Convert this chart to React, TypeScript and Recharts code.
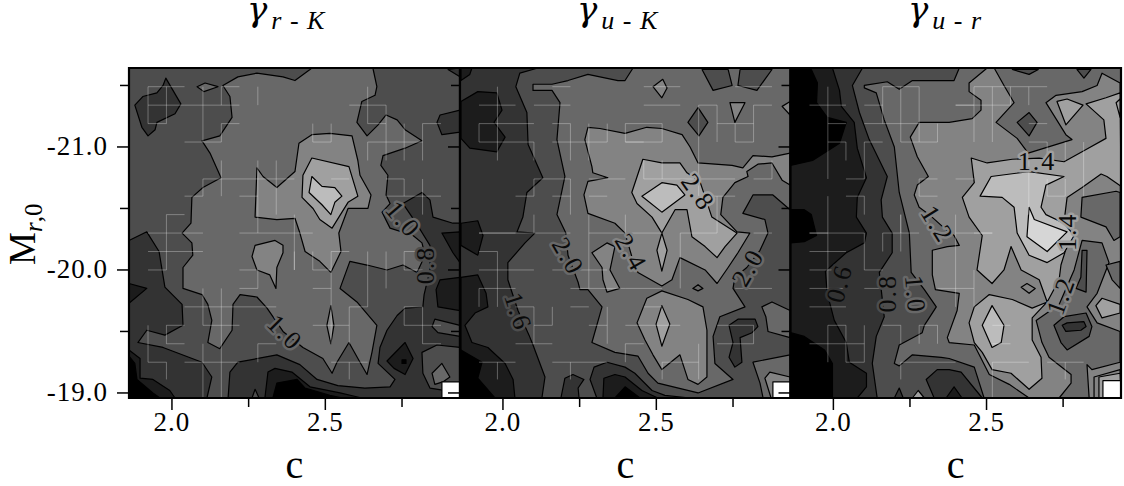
import React from "react";
import { ScatterChart, Scatter, XAxis, YAxis } from "recharts";

const cMin = 1.86, cMax = 2.939, mTop = -21.642, mBottom = -18.959;
const cTicks = [2, 2.25, 2.5, 2.75];
const mTicks = [-21.5, -21, -20.5, -20, -19.5, -19];
const grays = ["#000000", "#1c1c1c", "#333333", "#4d4d4d", "#686868", "#838383", "#a0a0a0", "#bcbcbc", "#d6d6d6", "#ffffff"];
const panelTitles = ["r - K", "u - K", "u - r"];
const gridC = [1.922,1.982,2.041,2.101,2.161,2.22,2.28,2.34,2.399,2.459,2.519,2.578,2.638,2.698,2.757,2.817,2.877];
const gridM = [-21.49,-21.34,-21.19,-21.04,-20.89,-20.74,-20.6,-20.45,-20.3,-20.15,-20,-19.85,-19.7,-19.55,-19.4,-19.25,-19.11,-18.96];

type Contour = [number, number[]];
type ValueLabel = [number, number, string, number, number];

const frameCorners = [cMin,mTop, cMax,mTop, cMax,mBottom, cMin,mBottom];

const rkContours: Contour[] = [
  [3, [1.86,-21.642, 2.939,-21.642, 2.939,-18.959, 1.86,-18.959]],
  [4, [2.166,-21.5, 2.215,-21.57, 2.277,-21.6, 2.362,-21.57, 2.401,-21.54, 2.45,-21.63, 2.456,-21.642, 2.655,-21.642, 2.668,-21.49, 2.662,-21.42, 2.619,-21.37, 2.603,-21.2, 2.636,-21.09, 2.672,-21.18, 2.698,-21.26, 2.734,-21.22, 2.76,-21.14, 2.815,-21.05, 2.76,-20.99, 2.688,-20.93, 2.681,-20.85, 2.704,-20.77, 2.698,-20.61, 2.711,-20.54, 2.685,-20.47, 2.711,-20.34, 2.786,-20.28, 2.815,-20.22, 2.825,-20.12, 2.799,-19.98, 2.753,-20.04, 2.701,-20, 2.636,-20.04, 2.58,-20.07, 2.548,-19.85, 2.603,-19.74, 2.668,-19.55, 2.652,-19.33, 2.636,-19.15, 2.613,-19.25, 2.577,-19.41, 2.538,-19.25, 2.522,-19.16, 2.492,-19.28, 2.427,-19.37, 2.362,-19.5, 2.31,-19.69, 2.277,-19.78, 2.222,-19.8, 2.199,-19.72, 2.196,-19.51, 2.156,-19.36, 2.117,-19.41, 2.13,-19.59, 2.117,-19.72, 2.098,-19.8, 2.036,-19.85, 2.036,-20.02, 2.068,-20.12, 2.065,-20.22, 2.033,-20.3, 2.062,-20.38, 2.065,-20.59, 2.101,-20.67, 2.16,-20.75, 2.124,-20.95, 2.098,-21.05, 2.156,-21.09, 2.196,-21.24, 2.189,-21.41]],
  [2, [1.98,-21.56, 2.029,-21.35, 2.01,-21.27, 1.951,-21.2, 1.945,-21.14, 1.922,-21.09, 1.902,-21.16, 1.879,-21.34, 1.905,-21.41, 1.951,-21.44, 1.971,-21.5]],
  [2, [1.86,-20.24, 1.918,-20.31, 1.958,-20.15, 1.977,-19.86, 2.033,-19.72, 2.036,-19.55, 1.977,-19.47, 1.918,-19.51, 1.889,-19.41, 1.971,-19.37, 2.098,-19.25, 2.13,-19.13, 2.114,-18.959, 1.86,-18.959]],
  [2, [2.183,-18.959, 2.189,-19.17, 2.215,-19.25, 2.342,-19.31, 2.417,-19.23, 2.473,-19.11, 2.541,-19.06, 2.629,-19.04, 2.711,-19.05, 2.727,-19.11, 2.672,-19.24, 2.678,-19.37, 2.701,-19.51, 2.734,-19.63, 2.76,-19.69, 2.818,-19.7, 2.822,-19.8, 2.841,-20, 2.841,-20.2, 2.799,-20.37, 2.753,-20.54, 2.815,-20.63, 2.841,-20.57, 2.851,-20.43, 2.916,-20.38, 2.939,-20.38, 2.939,-18.959]],
  [1, [2.88,-20.3, 2.939,-20.31, 2.939,-20.06, 2.916,-20.14]],
  [1, [2.939,-19.94, 2.874,-19.92, 2.861,-19.84, 2.867,-19.7, 2.939,-19.67]],
  [3, [2.857,-19.6, 2.848,-19.54, 2.867,-19.49, 2.939,-19.46, 2.939,-19.55]],
  [3, [2.815,-19.33, 2.864,-19.39, 2.939,-19.37, 2.939,-19, 2.841,-19.04, 2.818,-19.16]],
  [4, [2.848,-19.16, 2.88,-19.24, 2.906,-19.13, 2.883,-19.09, 2.857,-19.07]],
  [1, [2.701,-19.26, 2.76,-19.41, 2.786,-19.28, 2.76,-19.15, 2.724,-19.2]],
  [0, [2.75,-19.27, 2.763,-19.27, 2.763,-19.24, 2.75,-19.24]],
  [1, [2.303,-18.959, 2.313,-19.17, 2.336,-19.2, 2.391,-19.17, 2.45,-19.05, 2.548,-19, 2.619,-18.959]],
  [0, [2.329,-18.959, 2.342,-19.08, 2.408,-19.11, 2.434,-19.04, 2.515,-18.98, 2.557,-18.959]],
  [3, [2.271,-19.03, 2.284,-18.959, 2.261,-18.959]],
  [1, [1.86,-19.35, 1.896,-19.28, 1.896,-19.12, 1.938,-19.11, 1.993,-19.02, 2.01,-18.959, 1.86,-18.959]],
  [0, [1.86,-19.3, 1.879,-19.24, 1.886,-19.11, 1.938,-19, 1.961,-18.959, 1.86,-18.959]],
  [1, [1.86,-19.89, 1.918,-19.85, 1.86,-19.73]],
  [4, [2.082,-21.49, 2.108,-21.52, 2.15,-21.49, 2.104,-21.45]],
  [2, [2.9,-21.63, 2.939,-21.57, 2.939,-21.642]],
  [2, [2.864,-21.2, 2.874,-21.26, 2.939,-21.3, 2.939,-21.12, 2.88,-21.1]],
  [5, [2.277,-20.83, 2.297,-20.76, 2.342,-20.67, 2.401,-20.8, 2.414,-21.03, 2.456,-21.1, 2.515,-21.11, 2.587,-21.09, 2.606,-20.89, 2.613,-20.77, 2.649,-20.61, 2.639,-20.5, 2.574,-20.5, 2.544,-20.3, 2.551,-20.15, 2.518,-19.98, 2.482,-20.07, 2.434,-20.15, 2.417,-20.3, 2.401,-20.42, 2.342,-20.41, 2.271,-20.43]],
  [5, [2.271,-20.2, 2.336,-20.24, 2.362,-20.2, 2.362,-20.14, 2.342,-20.02, 2.339,-19.85, 2.319,-19.96, 2.277,-20, 2.261,-20.11]],
  [5, [2.518,-19.71, 2.528,-19.55, 2.518,-19.4, 2.505,-19.55]],
  [6, [2.456,-20.91, 2.577,-20.84, 2.606,-20.6, 2.574,-20.55, 2.522,-20.34, 2.482,-20.41, 2.46,-20.5, 2.424,-20.59, 2.427,-20.77]],
  [7, [2.456,-20.76, 2.489,-20.68, 2.531,-20.67, 2.554,-20.6, 2.531,-20.55, 2.518,-20.45, 2.489,-20.53, 2.447,-20.63]],
  [9, [2.88,-19.09, 2.939,-19.09, 2.939,-18.959, 2.88,-18.959]],
];

const ukContours: Contour[] = [
  [2, [1.86,-21.642, 2.939,-21.642, 2.939,-18.959, 1.86,-18.959]],
  [1, [1.863,-21.37, 1.918,-21.45, 1.98,-21.44, 1.997,-21.3, 1.971,-21.2, 2.007,-21.08, 1.98,-20.96, 1.892,-20.99, 1.863,-21.07]],
  [1, [1.863,-21.642, 1.899,-21.642, 1.892,-21.59, 1.863,-21.54]],
  [1, [1.863,-20.38, 1.918,-20.4, 1.935,-20.28, 1.918,-20.12, 1.863,-20.2]],
  [1, [1.863,-19.94, 1.918,-19.96, 1.945,-19.81, 1.951,-19.7, 1.909,-19.65, 1.876,-19.55, 1.899,-19.41, 1.951,-19.37, 2.007,-19.24, 2.033,-19.11, 2.039,-18.959, 1.863,-18.959]],
  [0, [1.863,-19.35, 1.932,-19.25, 1.918,-19.12, 1.974,-18.959, 1.863,-18.959]],
  [3, [2.114,-21.642, 2.055,-21.6, 2.042,-21.49, 2.078,-21.28, 2.082,-21.02, 2.13,-20.75, 2.078,-20.63, 2.065,-20.43, 2.046,-20.31, 2.104,-20.3, 2.072,-20.22, 2.016,-20.06, 2.016,-19.92, 2.049,-19.67, 2.085,-19.47, 2.098,-19.39, 2.137,-19.13, 2.127,-18.959, 2.939,-18.959, 2.939,-21.642]],
  [4, [2.098,-21.46, 2.16,-21.46, 2.186,-21.36, 2.176,-21.06, 2.202,-20.76, 2.176,-20.45, 2.205,-20.3, 2.212,-20.12, 2.245,-19.9, 2.251,-19.84, 2.277,-19.84, 2.323,-19.7, 2.29,-19.41, 2.365,-19.33, 2.44,-19.3, 2.473,-19.16, 2.505,-19.08, 2.636,-19, 2.75,-19.11, 2.691,-19.24, 2.685,-19.46, 2.707,-19.62, 2.789,-19.7, 2.75,-19.85, 2.756,-19.94, 2.795,-20.02, 2.838,-20.16, 2.864,-20.3, 2.854,-20.41, 2.782,-20.46, 2.815,-20.61, 2.88,-20.61, 2.936,-20.49, 2.939,-21.642, 2.424,-21.642, 2.398,-21.54, 2.375,-21.54, 2.277,-21.59, 2.212,-21.54, 2.16,-21.51, 2.098,-21.51]],
  [3, [2.649,-21.63, 2.685,-21.46, 2.747,-21.5, 2.734,-21.63]],
  [3, [2.773,-21.63, 2.766,-21.5, 2.828,-21.46, 2.877,-21.63]],
  [3, [2.603,-21.2, 2.636,-21.32, 2.668,-21.2, 2.639,-21.09]],
  [2, [2.737,-19.55, 2.766,-19.6, 2.822,-19.6, 2.831,-19.54, 2.812,-19.49, 2.773,-19.45, 2.779,-19.25, 2.756,-19.21, 2.737,-19.29, 2.75,-19.41]],
  [4, [2.844,-19.7, 2.877,-19.74, 2.936,-19.67, 2.936,-19.45, 2.864,-19.5, 2.857,-19.62]],
  [4, [2.815,-19.25, 2.936,-19.31, 2.939,-18.959, 2.848,-18.959, 2.838,-19.08]],
  [5, [2.854,-19.12, 2.87,-19.17, 2.936,-19.13, 2.939,-18.959, 2.874,-18.959]],
  [2, [2.189,-18.959, 2.202,-19.12, 2.228,-19.15, 2.264,-19.11, 2.245,-19.04, 2.248,-18.959]],
  [2, [2.284,-19.11, 2.297,-19.21, 2.339,-19.25, 2.398,-19.21, 2.43,-19.16, 2.486,-19.02, 2.528,-18.98, 2.61,-18.959, 2.306,-18.959]],
  [1, [2.326,-18.959, 2.329,-19.12, 2.365,-19.15, 2.398,-19.13, 2.453,-19.02, 2.505,-18.959]],
  [0, [2.365,-18.959, 2.398,-19.05, 2.447,-18.959]],
  [5, [2.277,-21.16, 2.316,-21.15, 2.398,-21.11, 2.469,-21.16, 2.518,-21.15, 2.584,-21.1, 2.61,-21, 2.636,-20.87, 2.747,-20.85, 2.782,-20.83, 2.815,-20.93, 2.877,-20.92, 2.936,-20.95, 2.936,-20.69, 2.91,-20.73, 2.877,-20.87, 2.831,-20.86, 2.795,-20.8, 2.799,-20.76, 2.756,-20.71, 2.717,-20.59, 2.71,-20.45, 2.763,-20.31, 2.805,-20.3, 2.766,-20.14, 2.734,-20.02, 2.698,-19.89, 2.659,-20, 2.577,-20.1, 2.551,-19.92, 2.518,-19.87, 2.44,-19.98, 2.42,-20.11, 2.398,-20.3, 2.365,-20.38, 2.277,-20.46, 2.264,-20.61, 2.277,-20.72, 2.342,-20.75, 2.293,-20.79, 2.29,-20.84, 2.267,-21.06]],
  [5, [2.29,-20.14, 2.339,-20.22, 2.365,-20.19, 2.349,-20, 2.381,-19.85, 2.339,-19.82, 2.326,-19.92, 2.323,-20.02]],
  [5, [2.437,-19.57, 2.469,-19.77, 2.518,-19.83, 2.603,-19.76, 2.652,-19.7, 2.665,-19.51, 2.665,-19.13, 2.636,-19.07, 2.603,-19.11, 2.577,-19.31, 2.518,-19.19, 2.489,-19.31, 2.463,-19.43]],
  [6, [2.499,-19.56, 2.518,-19.71, 2.544,-19.56, 2.518,-19.38]],
  [6, [2.502,-20.16, 2.518,-20.3, 2.535,-20.16, 2.518,-19.99]],
  [4, [2.619,-19.85, 2.636,-19.88, 2.652,-19.85, 2.636,-19.83]],
  [5, [2.489,-21.49, 2.521,-21.55, 2.535,-21.48, 2.518,-21.4]],
  [5, [2.74,-21.36, 2.789,-21.36, 2.756,-21.2]],
  [5, [2.91,-21.33, 2.936,-21.37, 2.936,-21.26]],
  [6, [2.456,-20.9, 2.518,-20.87, 2.577,-20.87, 2.6,-20.79, 2.642,-20.72, 2.681,-20.43, 2.756,-20.31, 2.763,-20.3, 2.724,-20.19, 2.698,-20.1, 2.659,-20.19, 2.616,-20.27, 2.6,-20.49, 2.561,-20.49, 2.518,-20.3, 2.486,-20.43, 2.437,-20.54, 2.42,-20.63]],
  [7, [2.453,-20.6, 2.518,-20.71, 2.567,-20.69, 2.593,-20.61, 2.518,-20.47]],
  [9, [2.88,-19.09, 2.939,-19.09, 2.939,-18.959, 2.88,-18.959]],
];

const urContours: Contour[] = [
  [1, [1.86,-21.642, 2.939,-21.642, 2.939,-18.959, 1.86,-18.959]],
  [0, [1.86,-21.63, 1.928,-21.63, 1.948,-21.52, 1.945,-21.36, 1.98,-21.24, 2.042,-21.2, 2.02,-21.03, 1.932,-20.89, 1.86,-20.85]],
  [0, [1.86,-20.49, 1.905,-20.49, 1.928,-20.45, 1.945,-20.28, 1.905,-20.23, 1.86,-20.22]],
  [0, [1.86,-19.49, 1.905,-19.46, 1.971,-19.35, 1.997,-19.24, 1.997,-18.959, 1.86,-18.959]],
  [2, [1.997,-21.642, 2.02,-21.46, 2.026,-21.33, 2.068,-21.2, 2.078,-20.99, 2.108,-20.75, 2.078,-20.59, 2.075,-20.43, 2.108,-20.3, 2.101,-20.22, 2.042,-20.14, 1.974,-19.99, 1.98,-19.81, 2.003,-19.59, 2.042,-19.41, 2.052,-19.25, 2.108,-19.16, 2.108,-19.05, 2.078,-18.959, 2.939,-18.959, 2.939,-21.642]],
  [3, [2.095,-21.642, 2.062,-21.5, 2.085,-21.28, 2.117,-21.06, 2.176,-20.76, 2.156,-20.57, 2.16,-20.43, 2.192,-20.3, 2.192,-20.14, 2.15,-19.98, 2.166,-19.62, 2.14,-19.46, 2.127,-19.24, 2.143,-18.959, 2.939,-18.959, 2.939,-21.642]],
  [4, [2.101,-21.5, 2.176,-21.53, 2.215,-21.47, 2.258,-21.54, 2.306,-21.54, 2.394,-21.54, 2.411,-21.642, 2.939,-21.642, 2.939,-18.959, 2.492,-18.959, 2.46,-19.21, 2.378,-19.28, 2.352,-19.29, 2.258,-19.31, 2.215,-19.22, 2.199,-19.24, 2.215,-19.39, 2.29,-19.49, 2.297,-19.55, 2.336,-19.7, 2.297,-19.84, 2.254,-19.98, 2.248,-20.3, 2.215,-20.63, 2.199,-21, 2.166,-21.22, 2.14,-21.44, 2.101,-21.48]],
  [2, [2.199,-18.959, 2.215,-19.04, 2.228,-18.959]],
  [6, [2.258,-18.959, 2.277,-19.02, 2.297,-18.959]],
  [2, [2.329,-18.959, 2.303,-19.11, 2.339,-19.19, 2.378,-19.19, 2.417,-19.17, 2.466,-19.02, 2.486,-18.959]],
  [1, [2.368,-18.959, 2.394,-19.05, 2.42,-18.959]],
  [5, [2.28,-21.2, 2.339,-21.2, 2.378,-21.2, 2.453,-21.23, 2.482,-21.3, 2.482,-21.38, 2.443,-21.45, 2.443,-21.52, 2.502,-21.642, 2.525,-21.642, 2.557,-21.5, 2.59,-21.36, 2.531,-21.2, 2.6,-21.07, 2.636,-20.95, 2.779,-21.06, 2.759,-21.1, 2.694,-21.36, 2.727,-21.42, 2.812,-21.45, 2.861,-21.5, 2.877,-21.6, 2.936,-21.52, 2.939,-18.959, 2.639,-18.959, 2.574,-19.07, 2.509,-19.15, 2.46,-19.39, 2.378,-19.41, 2.372,-19.45, 2.404,-19.67, 2.411,-19.81, 2.333,-19.84, 2.323,-19.96, 2.323,-20.16, 2.372,-20.19, 2.411,-20.2, 2.394,-20.28, 2.362,-20.34, 2.313,-20.45, 2.28,-20.51, 2.264,-20.61, 2.274,-20.69, 2.31,-20.76, 2.274,-20.92, 2.251,-21.08]],
  [4, [2.737,-19.72, 2.786,-20, 2.812,-20.24, 2.877,-20.22, 2.9,-20.06, 2.861,-19.81, 2.828,-19.7, 2.861,-19.57, 2.936,-19.5, 2.936,-19.25, 2.844,-19.19, 2.828,-19.23, 2.835,-18.959, 2.737,-18.959, 2.776,-19.08, 2.776,-19.15, 2.704,-19.29, 2.681,-19.41, 2.662,-19.59]],
  [3, [2.72,-19.55, 2.753,-19.62, 2.825,-19.65, 2.844,-19.54, 2.835,-19.46, 2.763,-19.35, 2.743,-19.41]],
  [2, [2.747,-19.55, 2.763,-19.57, 2.818,-19.58, 2.825,-19.54, 2.808,-19.51, 2.759,-19.5]],
  [3, [2.812,-20.16, 2.828,-20.16, 2.825,-19.82, 2.792,-19.85, 2.808,-19.94]],
  [6, [2.857,-19.71, 2.877,-19.77, 2.936,-19.72, 2.936,-19.65, 2.877,-19.61]],
  [5, [2.851,-19.13, 2.936,-19.19, 2.939,-18.959, 2.851,-18.959]],
  [6, [2.867,-19.13, 2.936,-19.16, 2.939,-18.959, 2.867,-18.959]],
  [6, [2.45,-20.91, 2.502,-20.87, 2.584,-20.9, 2.672,-20.91, 2.753,-20.88, 2.825,-20.98, 2.89,-21.07, 2.883,-21.22, 2.825,-21.35, 2.89,-21.4, 2.936,-21.44, 2.939,-20.68, 2.893,-20.76, 2.874,-20.78, 2.812,-20.67, 2.763,-20.59, 2.756,-20.45, 2.763,-20.2, 2.743,-20.04, 2.737,-19.92, 2.698,-19.74, 2.672,-19.92, 2.613,-20, 2.58,-20.19, 2.557,-20, 2.518,-19.89, 2.469,-20, 2.486,-20.28, 2.443,-20.43, 2.421,-20.59, 2.46,-20.71]],
  [4, [2.812,-20.59, 2.923,-20.64, 2.936,-20.63, 2.936,-20.27, 2.916,-20.24, 2.89,-20.35, 2.808,-20.43]],
  [4, [2.89,-20.04, 2.936,-20.07, 2.936,-19.85, 2.91,-19.92]],
  [6, [2.73,-21.37, 2.763,-21.39, 2.815,-21.34, 2.759,-21.18]],
  [6, [2.923,-21.36, 2.936,-21.39, 2.936,-21.24]],
  [3, [2.6,-21.2, 2.639,-21.28, 2.665,-21.2, 2.639,-21.09]],
  [3, [2.584,-21.63, 2.639,-21.59, 2.669,-21.63]],
  [3, [2.795,-21.63, 2.818,-21.56, 2.841,-21.63]],
  [6, [2.443,-19.57, 2.46,-19.7, 2.509,-19.8, 2.584,-19.76, 2.649,-19.69, 2.698,-19.74, 2.649,-19.61, 2.649,-19.43, 2.678,-19.29, 2.681,-19.12, 2.639,-19.03, 2.58,-19.16, 2.518,-19.19, 2.486,-19.33, 2.46,-19.41]],
  [7, [2.486,-19.55, 2.518,-19.71, 2.557,-19.55, 2.548,-19.41, 2.518,-19.37]],
  [5, [2.613,-19.86, 2.632,-19.89, 2.659,-19.85, 2.639,-19.81]],
  [7, [2.515,-20.76, 2.639,-20.8, 2.753,-20.76, 2.694,-20.69, 2.678,-20.51, 2.694,-20.45, 2.753,-20.38, 2.786,-20.28, 2.753,-20.14, 2.698,-20.06, 2.639,-20.12, 2.6,-20.3, 2.59,-20.51, 2.551,-20.59, 2.479,-20.6]],
  [8, [2.639,-20.51, 2.656,-20.41, 2.763,-20.31, 2.698,-20.15, 2.632,-20.27]],
  [9, [2.88,-19.1, 2.939,-19.1, 2.939,-18.959, 2.88,-18.959]],
];

const rkLabels: ValueLabel[] = [[2.753,-20.41,"1.0",50,4],[2.828,-20.04,"0.8",-90,3],[2.368,-19.49,"1.0",45,4]];
const ukLabels: ValueLabel[] = [[2.636,-20.63,"2.8",55,6],[2.417,-20.14,"2.4",60,5],[2.212,-20.11,"2.0",60,4],[2.049,-19.66,"1.6",72,3],[2.799,-20.02,"2.0",-60,4]];
const urLabels: ValueLabel[] = [[2.665,-20.88,"1.4",0,6],[2.763,-20.31,"1.4",-90,6],[2.743,-19.79,"1.2",-70,5],[2.339,-20.37,"1.2",58,5],[2.267,-19.8,"1.0",85,4],[2.176,-19.81,"0.8",-90,3],[2.02,-19.89,"0.6",-75,2]];

// light reseau fragments of the source plate, as index pairs into gridC / gridM: [i1, j1, i2, j2]
const rkWires = [[0,0,2,0],[0,0,0,2],[0,1,2,1],[2,1,5,1],[1,0,1,2],[0,2,1,2],[3,0,3,3],[4,0,4,1],[4,0,5,0],[4,2,5,2],[4,2,4,3],[2,3,4,3],[6,0,6,1],[4,4,4,6],[3,5,7,5],[3,5,3,6],[2,6,3,6],[5,6,6,6],[6,4,6,8],[7,4,7,7],[1,7,1,8],[1,7,2,7],[12,0,12,2],[11,1,13,1],[13,1,13,2],[12,2,13,2],[13,2,13,4],[14,2,14,4],[12,3,15,3],[12,3,12,4],[15,2,16,2],[15,2,15,4],[9,2,9,3],[10,2,10,3],[9,3,10,3],[10,5,11,5],[13,5,14,5],[14,5,14,6],[13,6,16,6],[15,5,15,7],[8,7,8,8],[7,5,8,5],[8,8,9,8],[0,8,3,8],[1,8,1,10],[0,9,3,9],[0,10,1,10],[3,11,3,13],[4,11,4,15],[2,12,7,12],[3,13,5,13],[1,13,1,14],[1,13,2,13],[1,14,2,14],[0,13,0,15],[0,15,1,15],[1,15,1,16],[3,14,3,17],[2,15,5,15],[4,15,4,17],[5,8,8,8],[5,10,6,10],[6,10,6,11],[5,11,6,11],[8,9,8,10],[6,14,6,15],[6,14,7,14],[8,8,8,10],[9,9,9,10],[9,10,10,10],[10,9,10,14],[10,9,11,9],[9,11,10,11],[11,12,12,12],[11,12,11,14],[9,13,11,13],[12,9,12,12],[13,9,13,11],[14,9,14,10],[14,9,15,9],[14,10,15,10],[14,12,15,12],[14,12,14,13],[14,13,16,13],[15,12,15,14],[15,14,16,14],[10,15,12,15],[11,15,11,16]];
const ukWires = [[0,3,3,3],[0,2,3,2],[0,2,0,3],[1,0,1,4],[0,1,2,1],[3,3,3,4],[3,5,5,5],[3,5,3,6],[2,6,3,6],[3,7,3,8],[0,8,2,8],[4,6,5,6],[5,5,5,7],[4,2,5,2],[5,2,5,4],[4,3,7,3],[3,1,5,1],[4,0,5,0],[6,5,8,5],[6,6,7,6],[6,2,6,4],[7,2,7,3],[8,2,8,3],[8,3,9,3],[6,7,6,8],[6,8,8,8],[8,7,8,8],[9,0,11,0],[9,1,11,1],[8,3,10,3],[8,2,10,2],[10,2,10,3],[9,5,14,5],[9,4,9,5],[10,4,10,5],[12,1,12,6],[12,1,13,1],[13,1,13,3],[13,2,15,2],[14,2,14,3],[14,3,15,3],[15,1,15,3],[15,1,16,1],[14,0,16,0],[12,6,14,6],[13,6,13,8],[8,8,10,8],[15,5,16,5],[16,4,16,5],[15,8,16,8],[0,8,5,8],[0,9,1,9],[1,9,1,12],[0,10,3,10],[0,11,2,11],[0,11,0,12],[2,12,3,12],[3,12,3,14],[3,13,4,13],[4,12,4,13],[2,14,4,14],[0,15,2,15],[1,15,1,16],[4,15,7,15],[5,15,5,16],[5,12,6,12],[6,13,7,13],[7,12,7,14],[4,10,7,10],[5,11,8,11],[6,8,6,11],[8,14,8,15],[8,14,9,14],[8,11,10,11],[11,8,11,11],[11,8,13,8],[8,13,11,13],[12,14,12,16],[10,15,12,15],[10,15,10,16],[9,12,10,12],[14,11,16,11],[13,13,15,13],[15,13,15,14],[13,14,15,14]];
const urWires = [[1,0,1,5],[0,1,2,1],[1,2,2,2],[1,3,2,3],[2,3,2,4],[2,5,3,5],[2,6,3,6],[3,6,3,7],[1,6,1,8],[0,8,1,8],[3,1,4,1],[3,2,6,2],[4,0,4,2],[5,0,5,3],[6,0,6,3],[4,0,6,0],[5,3,7,3],[3,3,3,5],[3,3,4,3],[7,2,7,3],[8,1,9,1],[6,5,7,5],[8,5,9,5],[6,6,7,6],[6,5,6,6],[8,7,8,8],[5,7,5,8],[5,8,6,8],[9,0,9,3],[9,0,13,0],[8,1,11,1],[10,0,10,3],[11,0,11,1],[12,0,12,1],[12,2,13,2],[12,3,13,3],[13,3,13,4],[14,3,14,4],[13,6,14,6],[13,5,13,6],[14,5,14,6],[12,4,12,7],[15,3,15,6],[9,8,10,8],[0,8,3,8],[1,8,1,11],[0,9,2,9],[0,10,2,10],[0,11,2,11],[0,12,2,12],[4,8,5,8],[3,8,3,10],[3,10,4,10],[4,8,4,9],[5,7,5,9],[3,11,4,11],[1,13,2,13],[2,13,2,15],[1,13,1,15],[0,14,3,14],[3,13,3,15],[4,13,5,13],[5,13,5,14],[2,15,3,15],[5,15,5,16],[5,15,8,15],[6,13,6,14],[6,13,7,13],[7,13,7,14],[7,11,8,11],[8,8,8,12],[8,8,10,8],[8,11,9,11],[9,10,9,12],[10,13,11,13],[10,14,11,14],[10,15,12,15],[14,15,14,16],[13,15,15,15],[10,15,10,17]];

const serif = "'Liberation Serif', 'Times New Roman', serif";

const noPoint = () => <g />;

const polygonLine = (level: number) => (p: any) => (
  <polygon
    points={(p.points || []).map((q: any) => `${q.x},${q.y}`).join(" ")}
    fill={grays[level]}
    stroke="#000"
    strokeWidth={1.2}
    strokeLinejoin="round"
  />
);

const frameLine = (p: any) => (
  <polygon points={(p.points || []).map((q: any) => `${q.x},${q.y}`).join(" ")} fill="none" stroke="#000" strokeWidth={2.2} />
);

const wireLine = (p: any) => {
  const pts = p.points || [];
  let d = "";
  for (let k = 0; k + 1 < pts.length; k += 2) d += `M${pts[k].x},${pts[k].y}L${pts[k + 1].x},${pts[k + 1].y}`;
  return <path d={d} fill="none" stroke="#fff" strokeOpacity={0.3} strokeWidth={1} />;
};

const labelShape = (p: any) => {
  const r = p.payload;
  return (
    <text x={p.cx} y={p.cy} transform={`rotate(${r.angle} ${p.cx} ${p.cy})`} textAnchor="middle" dominantBaseline="central"
      fontFamily={serif} fontSize={26} letterSpacing={2} fill="#0a0a0a" stroke={grays[r.halo]} strokeWidth={5} paintOrder="stroke" strokeLinejoin="round">
      {r.text}
    </text>
  );
};

const BottomTick = (p: any) => {
  const v = p.payload.value;
  const major = v === 2 || v === 2.5;
  return (
    <g>
      <line x1={p.x} x2={p.x} y1={p.y} y2={p.y + (major ? 12 : 9)} stroke="#000" strokeWidth={1.5} />
      {major ? (
        <text x={p.x} y={p.y + 33} textAnchor="middle" fontFamily={serif} fontSize={27} letterSpacing={1} fill="#000">
          {v.toFixed(1)}
        </text>
      ) : null}
    </g>
  );
};

const TopTick = (p: any) => {
  const major = p.payload.value === 2 || p.payload.value === 2.5;
  return <line x1={p.x} x2={p.x} y1={p.y} y2={p.y - (major ? 12 : 9)} stroke="#000" strokeWidth={1.5} />;
};

const makeLeftTick = (withText: boolean) => (p: any) => {
  const v = p.payload.value;
  const major = Number.isInteger(v);
  return (
    <g>
      <line x1={p.x} x2={p.x - (major ? 12 : 9)} y1={p.y} y2={p.y} stroke="#000" strokeWidth={1.5} />
      {withText && major ? (
        <text x={p.x - 21} y={p.y + 8} textAnchor="end" fontFamily={serif} fontSize={27} letterSpacing={1} fill="#000">
          {v.toFixed(1)}
        </text>
      ) : null}
    </g>
  );
};

const RightTick = (p: any) => (
  <line x1={p.x} x2={p.x + 3} y1={p.y} y2={p.y} stroke="#000" strokeWidth={1.5} />
);

const pairsToRows = (flat: number[]) => {
  const rows: { c: number; M: number }[] = [];
  for (let k = 0; k < flat.length; k += 2) rows.push({ c: flat[k], M: flat[k + 1] });
  return rows;
};

function Panel({ plotLeft, contours, labels, wires, withText, last }: { plotLeft: number; contours: Contour[]; labels: ValueLabel[]; wires: number[][]; withText: boolean; last: boolean }) {
  const labelRows = labels.map(([c, M, text, angle, halo]) => ({ c, M, text, angle, halo }));
  const wireRows = wires.flatMap(([i1, j1, i2, j2]) => [
    { c: gridC[i1], M: gridM[j1] },
    { c: gridC[i2], M: gridM[j2] },
  ]);
  return (
    <div style={{ position: "absolute", left: 0, top: 0 }}>
      <ScatterChart
        width={1124}
        height={486}
        margin={{ left: plotLeft - 60, right: 1124 - plotLeft - 331 - (last ? 2.5 : 0), top: 56, bottom: 0 }}
      >
        {contours.map(([level, flat], i) => (
          <Scatter key={i} data={pairsToRows(flat)} dataKey="M" line={polygonLine(level)} shape={noPoint} isAnimationActive={false} legendType="none" />
        ))}
        <Scatter data={wireRows} dataKey="M" line={wireLine} shape={noPoint} isAnimationActive={false} legendType="none" />
        <Scatter data={labelRows} dataKey="M" shape={labelShape} isAnimationActive={false} legendType="none" />
        <Scatter data={pairsToRows(frameCorners)} dataKey="M" line={frameLine} shape={noPoint} isAnimationActive={false} legendType="none" />
        <XAxis
          dataKey="c" type="number" domain={[cMin, cMax]} ticks={cTicks} interval={0} height={88}
          tick={BottomTick} tickLine={false} tickSize={0} tickMargin={0}
          axisLine={{ stroke: "#000", strokeWidth: 2 }}
          label={{ value: "c", position: "insideBottom", offset: 8, fontFamily: serif, fontSize: 40, fill: "#000" }}
        />
        <XAxis
          xAxisId="top" orientation="top" type="number" domain={[cMin, cMax]} ticks={cTicks} interval={0} height={12}
          tick={TopTick} tickLine={false} tickSize={0} tickMargin={0}
          axisLine={{ stroke: "#000", strokeWidth: 2 }}
        />
        <YAxis
          dataKey="M" type="number" domain={[mTop, mBottom]} reversed ticks={mTicks} interval={0} width={60}
          tick={makeLeftTick(withText)} tickLine={false} tickSize={0} tickMargin={0}
          axisLine={{ stroke: "#000", strokeWidth: 2 }}
        />
        {last ? (
          <YAxis
            yAxisId="right" orientation="right" type="number" domain={[mTop, mBottom]} reversed ticks={mTicks} interval={0} width={3}
            tick={RightTick} tickLine={false} tickSize={0} tickMargin={0} axisLine={false}
          />
        ) : null}
      </ScatterChart>
    </div>
  );
}

export default function App() {
  return (
    <div style={{ position: "absolute", left: 0, top: 0, width: 1124, height: 486, background: "#fff", overflow: "hidden" }}>
      <Panel plotLeft={129} contours={rkContours} labels={rkLabels} wires={rkWires} withText last={false} />
      <Panel plotLeft={460} contours={ukContours} labels={ukLabels} wires={ukWires} withText={false} last={false} />
      <Panel plotLeft={790.5} contours={urContours} labels={urLabels} wires={urWires} withText={false} last />
      <svg width={1124} height={486} style={{ position: "absolute", left: 0, top: 0, pointerEvents: "none" }}>
        {[247, 577, 908].map((x, i) => (
          <text key={i} x={x} y={21} fill="#000">
            <tspan fontFamily="'DejaVu Serif', serif" fontStyle="italic" fontSize={34}>γ</tspan>
            <tspan dx={4} dy={8} fontFamily={serif} fontStyle="italic" fontSize={26} letterSpacing={1}>{panelTitles[i]}</tspan>
          </text>
        ))}
        <text transform="translate(35,265) rotate(-90)" fontFamily={serif} fontSize={37} fill="#000">
          M
          <tspan dy={7} fontSize={25} fontStyle="italic">r</tspan>
          <tspan fontSize={25}>,0</tspan>
        </text>
      </svg>
    </div>
  );
}
